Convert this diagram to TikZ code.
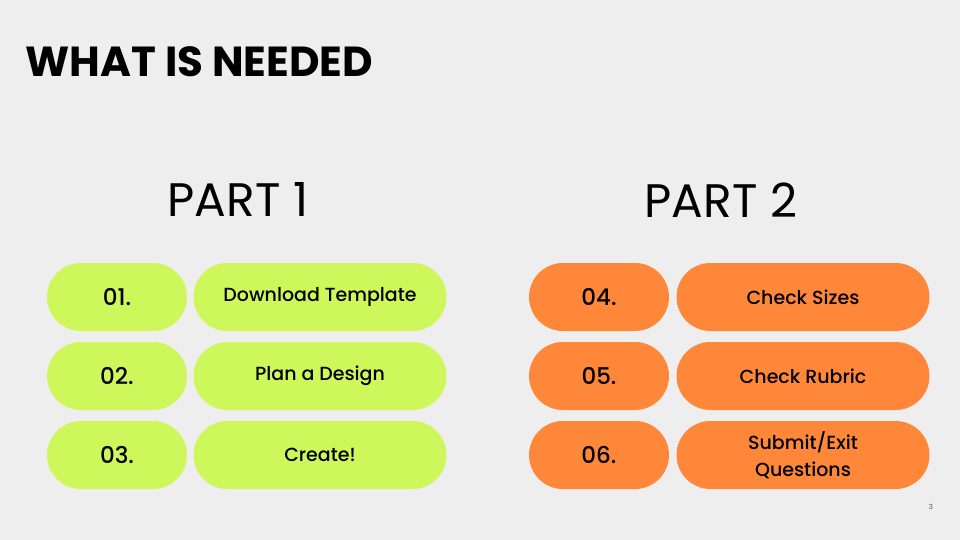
\documentclass[tikz,border=0pt]{standalone}
\usepackage{fontspec}
\setmainfont{Poppins}
\newfontfamily\mediumfont{Poppins Medium}
\definecolor{slidebg}{HTML}{EEEEEE}
\definecolor{limegreen}{HTML}{CDF75B}
\definecolor{brightorange}{HTML}{FF873A}
\tikzset{
  pill/.style={rectangle, rounded corners=34pt, inner sep=0pt,
    minimum height=68pt, align=center, font=\mediumfont\fontsize{19}{27}\selectfont},
  numpill/.style={pill, minimum width=140pt, font=\mediumfont\fontsize{23}{26}\selectfont},
  textpill/.style={pill, minimum width=253pt},
  greenpill/.style={fill=limegreen},
  orangepill/.style={fill=brightorange},
  parthead/.style={font=\fontsize{47}{54}\selectfont}
}
\begin{document}
\begin{tikzpicture}[x=1pt,y=-1pt]
      \fill[slidebg] (0,0) rectangle (960,540);
      \useasboundingbox (0,0) rectangle (960,540);
      \node[anchor=west, font=\fontsize{42}{48}\selectfont\bfseries] (title) at (22,62) {WHAT IS NEEDED};
      \node[parthead] (part1) at (238,200) {PART 1};
      \node[parthead] (part2) at (721,200) {PART 2};
      % part 1
      \node[numpill, greenpill] (n1) at (117,297) {01.};
      \node[numpill, greenpill] (n2) at (117,376) {02.};
      \node[numpill, greenpill] (n3) at (117,455) {03.};
      \node[textpill, greenpill] (t1) at (320,297) {Download Template};
      \node[textpill, greenpill] (t2) at (320,376) {Plan a Design};
      \node[textpill, greenpill] (t3) at (320,455) {Create!};
      % part 2
      \node[numpill, orangepill] (n4) at (599,297) {04.};
      \node[numpill, orangepill] (n5) at (599,376) {05.};
      \node[numpill, orangepill] (n6) at (599,455) {06.};
      \node[textpill, orangepill] (t4) at (803,297) {Check Sizes};
      \node[textpill, orangepill] (t5) at (803,376) {Check Rubric};
      \node[textpill, orangepill] (t6) at (803,455) {Submit/Exit\\Questions};
      \node[font=\fontsize{7}{8}\selectfont, text=black!70] (page) at (931,507) {3};
    \end{tikzpicture}
\end{document}
